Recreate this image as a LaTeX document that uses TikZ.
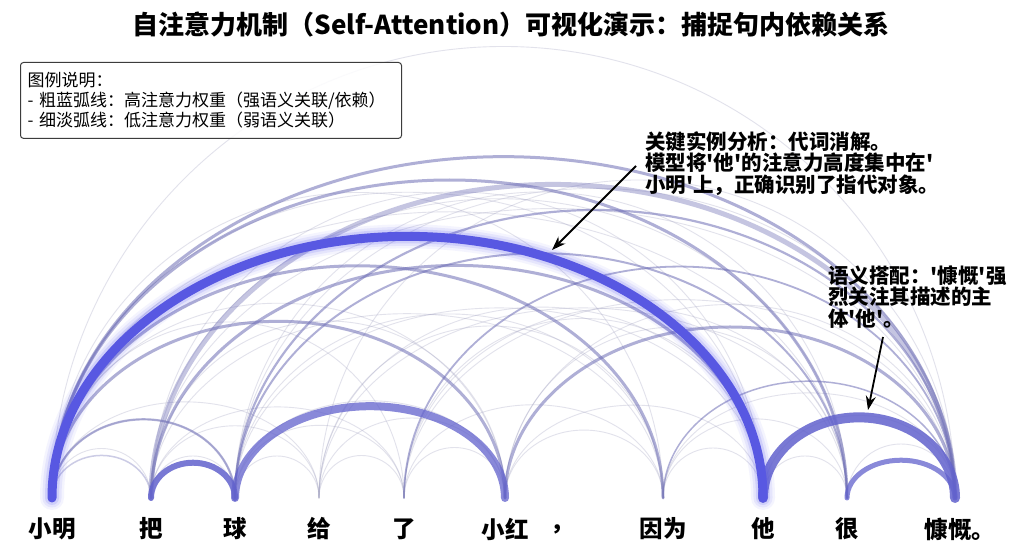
\documentclass[tikz,border=0pt]{standalone}
\usepackage{fontspec}
\setmainfont{Noto Sans CJK SC}[Ligatures=TeXOff]
\usetikzlibrary{arrows.meta}
\definecolor{faintc}{RGB}{160,160,192}
\definecolor{medc}{RGB}{110,110,182}
\definecolor{strongc}{RGB}{98,98,205}
\definecolor{mainc}{RGB}{88,88,226}
\definecolor{glowc}{RGB}{80,80,240}
\definecolor{boxc}{RGB}{60,60,60}
\def\xs{{52,151,235,319,404,505,562,663,763,847,955}}
\newcommand\attarc[4]{%
  \pgfmathsetmacro\xa{\xs[#1]}%
  \pgfmathsetmacro\xb{\xs[#2]}%
  \pgfmathsetmacro\rx{(\xb-\xa)/2}%
  \pgfmathsetmacro\ry{(#3)*(\xb-\xa)}%
  \draw[#4] (e#1) arc[start angle=180,end angle=0,x radius=\rx pt,y radius=\ry pt];}
\tikzset{
  faint/.style={draw=faintc, line width=0.9pt, draw opacity=0.3, line cap=round},
  med/.style={draw=medc, draw opacity=0.55, line cap=round},
  strong/.style={draw=strongc, draw opacity=0.85, line cap=round},
  glow/.style={draw=glowc, line cap=round},
  word/.style={font=\fontsize{23.5}{25}\selectfont\bfseries, inner sep=0pt},
  annot/.style={font=\fontsize{20.5}{21.5}\selectfont\bfseries, align=left, inner sep=0pt, anchor=north west},
  pointer/.style={line width=1.8pt, -{Stealth[length=14pt,width=10pt]}}
}
\begin{document}
\begin{tikzpicture}[x=1pt,y=1pt]
\useasboundingbox (0,0) rectangle (1024,559);
\fill[white] (0,0) rectangle (1024,559);
% endpoints
\foreach \i in {0,...,10}{\pgfmathsetmacro\xx{\xs[\i]}\coordinate (e\i) at (\xx,61);}
% faint arcs between all word pairs (punctuation excluded)
\foreach \i in {0,1,2,3,4,5,7,8,9}{
  \foreach \j in {1,...,10}{
    \ifnum\j>\i \ifnum\j=6 \else
      \pgfmathsetmacro\rr{0.36+0.07*mod(\i+2*\j,3)}
      \attarc{\i}{\j}{\rr}{faint}
    \fi\fi
  }
}
% medium arcs
\attarc{0}{10}{0.378}{med, line width=3pt}
\attarc{0}{9}{0.40}{med, line width=3pt}
\attarc{1}{10}{0.39}{med, line width=5pt, draw opacity=0.4}
\attarc{0}{7}{0.38}{med, line width=3pt}
\attarc{0}{5}{0.39}{med, line width=3pt}
\attarc{0}{2}{0.43}{med, line width=2.2pt}
\attarc{0}{1}{0.43}{med, line width=1.5pt, draw opacity=0.35}
\attarc{1}{8}{0.38}{med, line width=3pt}
\attarc{5}{10}{0.38}{med, line width=3pt}
\attarc{2}{10}{0.40}{med, line width=2.2pt}
\attarc{2}{9}{0.40}{med, line width=2pt}
\attarc{4}{10}{0.42}{med, line width=1.8pt}
\attarc{7}{10}{0.40}{med, line width=1.5pt}
% strong arcs
\attarc{1}{2}{0.42}{strong, line width=6pt}
\attarc{2}{5}{0.34}{strong, line width=8pt, draw opacity=0.75}
\attarc{9}{10}{0.35}{strong, line width=5pt, draw opacity=0.75}
\attarc{8}{10}{0.42}{strong, line width=10pt}
% main arc with glow
\attarc{0}{8}{0.368}{glow, line width=24pt, draw opacity=0.06}
\attarc{0}{8}{0.368}{glow, line width=19pt, draw opacity=0.09}
\attarc{0}{8}{0.368}{glow, line width=14pt, draw opacity=0.14}
\attarc{0}{8}{0.368}{draw=mainc, line width=9pt, line cap=round}
% words
\foreach \i/\t in {0/小明,1/把,2/球,3/给,4/了,5/小红,6/，,7/因为,8/他,9/很,10/慷慨。}{
  \pgfmathsetmacro\xx{\xs[\i]}
  \ifnum\i=10 \pgfmathsetmacro\xx{960}\fi
  \node[word] (w\i) at (\xx,30) {\t};
}
% title
\node[font=\fontsize{26}{28}\selectfont\bfseries, inner sep=0pt] (title) at (511,534)
  {自注意力机制（Self-Attention）可视化演示：捕捉句内依赖关系};
% legend
\node[draw=boxc, line width=1pt, rounded corners=3pt, fill=white, fill opacity=0.85, text opacity=1,
      anchor=north west, align=left, text width=367pt, inner xsep=7pt, inner ysep=10pt,
      font=\fontsize{17}{20}\selectfont] (legend) at (20,497)
  {图例说明：\\- 粗蓝弧线：高注意力权重（强语义关联/依赖）\\- 细淡弧线：低注意力权重（弱语义关联）};
% annotations
\node[annot] (ann1) at (645,428)
  {关键实例分析：代词消解。\\模型将'他'的注意力高度集中在'\\小明'上，正确识别了指代对象。};
\node[annot] (ann2) at (828,294)
  {语义搭配：'慷慨'强\\烈关注其描述的主\\体'他'。};
\coordinate (a1s) at (636,393);
\coordinate (a1t) at (552,309);
\coordinate (a2s) at (883,222);
\coordinate (a2t) at (868,149);
\draw[pointer] (a1s) -- (a1t);
\draw[pointer] (a2s) -- (a2t);
\end{tikzpicture}
\end{document}
